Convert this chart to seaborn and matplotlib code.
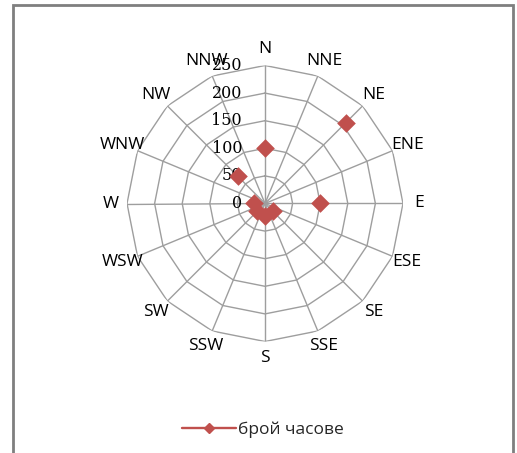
import numpy as np
import pandas as pd
import matplotlib
matplotlib.use("Agg")
import matplotlib.pyplot as plt
from matplotlib.lines import Line2D
from matplotlib.patches import Rectangle
import seaborn as sns

# Wind directions (16-point compass) and hours recorded per direction
directions = ["N", "NNE", "NE", "ENE", "E", "ESE", "SE", "SSE",
              "S", "SSW", "SW", "WSW", "W", "WNW", "NW", "NNW"]
hours = [100, np.nan, 207, np.nan, 100, np.nan, 20, np.nan,
         22, np.nan, 20, np.nan, 20, np.nan, 70, np.nan]
ring_ticks = [0, 50, 100, 150, 200, 250]
series_name = "брой часове"

sns.set_theme(style="white")
plt.rcParams["font.family"] = ["Open Sans", "DejaVu Sans"]

W, H = 517, 453
fig = plt.figure(figsize=(W / 100, H / 100), dpi=100)
fig.patch.set_facecolor("white")

cx, cy, R = 265, 203.5, 138
ax = fig.add_axes([(cx - R) / W, (H - cy - R) / H, 2 * R / W, 2 * R / H],
                  projection="polar")
ax.set_theta_zero_location("N")
ax.set_theta_direction(-1)
ax.set_ylim(0, ring_ticks[-1])
ax.grid(False)
ax.spines["polar"].set_visible(False)
ax.set_xticks([])
ax.set_yticks([])
ax.patch.set_alpha(0)

theta = np.deg2rad(np.arange(len(directions)) * 360 / len(directions))
df = pd.DataFrame({"theta": theta, "hours": hours, "direction": directions})

# polygonal grid rings and spokes
grid_kw = dict(color="#9e9e9e", lw=1.0, zorder=1)
closed = np.append(theta, theta[0])
for r in ring_ticks[1:]:
    ax.plot(closed, [r] * len(closed), **grid_kw)
for t in theta:
    ax.plot([t, t], [0, ring_ticks[-1]], **grid_kw)

# radial value labels along the north spoke
for r in ring_ticks:
    ax.annotate(str(r), xy=(0, r), xytext=(-23, 0), textcoords="offset pixels",
                ha="right", va="center", fontsize=11.5,
                family=["DejaVu Serif"], color="black", annotation_clip=False)

# compass labels
for t, d in zip(theta, directions):
    ax.text(t, 279, d, ha="center", va="center", fontsize=12.5,
            color="black", clip_on=False)

red = "#C0504D"
sns.scatterplot(data=df, x="theta", y="hours", marker="D", s=90,
                color=red, edgecolor=red, linewidth=0, ax=ax,
                legend=False, zorder=3)
ax.set_xlabel("")
ax.set_ylabel("")
ax.set_ylim(0, ring_ticks[-1])

handle = Line2D([], [], color=red, lw=1.7, marker="D", ms=5.5,
                markeredgecolor=red)
fig.legend([handle], [series_name], loc="center",
           bbox_to_anchor=(263 / W, 1 - 430 / H), frameon=False,
           handlelength=3.1, handletextpad=0.1, fontsize=12.5)

fig.patches.append(Rectangle((13 / W, -0.1), 500 / W, (H - 5) / H + 0.1,
                             transform=fig.transFigure, fill=False,
                             ec="#7f7f7f", lw=2.0))

fig.savefig("out.png", dpi=100, facecolor="white")
